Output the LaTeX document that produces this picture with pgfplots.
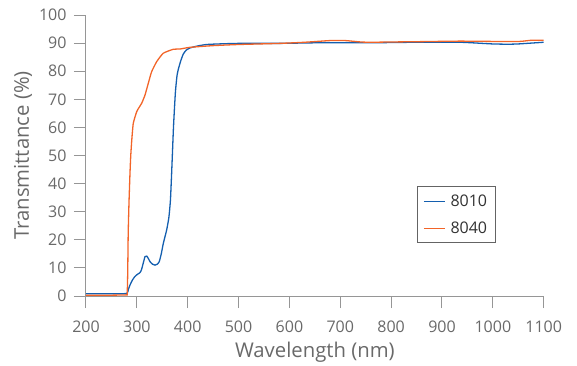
\documentclass[border=0pt]{standalone}
\usepackage{pgfplots}
\pgfplotsset{compat=1.18}
\usepackage{fontspec}
\setmainfont{Open Sans}
\definecolor{cblue}{RGB}{20,95,175}
\definecolor{corange}{RGB}{242,100,40}
\definecolor{axgray}{RGB}{150,150,150}
\definecolor{txtgray}{RGB}{105,105,105}
\begin{document}
\begin{tikzpicture}
\useasboundingbox (-86pt,-69pt) rectangle (491pt,296pt);
\begin{axis}[
  at={(0,0)}, anchor=south west,
  scale only axis, width=457.7pt, height=281pt,
  xmin=200, xmax=1100, ymin=0, ymax=100,
  xtick={200,300,...,1100}, ytick={0,10,...,100},
  axis lines*=left,
  axis line style={axgray, line width=1pt},
  tick style={axgray, line width=1pt},
  tick align=outside,
  major tick length=12pt,
  every tick label/.style={font=\fontsize{16}{18}\selectfont, text=txtgray},
  /pgf/number format/assume math mode=true,
  /pgf/number format/1000 sep={},
  xticklabel style={yshift=-9pt},
  yticklabel style={xshift=-4pt},
  xlabel={Wavelength (nm)},
  ylabel={Transmittance (\%)},
  xlabel style={font=\fontsize{20.3}{23}\selectfont, text=txtgray, at={(axis description cs:0.5,0)}, anchor=center, yshift=-56pt},
  ylabel style={font=\fontsize{20.3}{23}\selectfont, text=txtgray, at={(axis description cs:0,0.5)}, anchor=center, yshift=63pt},
  legend style={at={(axis description cs:0.723,0.391)}, anchor=north west, draw={rgb,255:red,100;green,100;blue,100}, line width=0.8pt, font=\fontsize{16}{18}\selectfont, text={rgb,255:red,50;green,50;blue,50}, inner xsep=6pt, inner ysep=6pt, row sep=10pt, cells={anchor=west}},
  legend image code/.code={\draw[#1, line width=1.1pt] (6pt,0pt) -- (27pt,0pt); \path (30pt,0pt);},
  clip=false,
]
\addplot[cblue, line width=1.3pt, smooth, tension=0.3] coordinates {
(200,0.8) (250,0.8) (280,0.9) (283,2.2) (286.5,3.9) (291,5.6) (296,6.9) (301,7.7) (306,8.3) (309,9.3) (313,12) (316,14) (319.5,14.2) (323,13.2) (326,12.2) (331,11.3) (335.7,11.0) (340,11.3) (344,12.2) (348,15) (352,18.7) (358.6,23.5) (363,28) (366,34) (368,42) (370,51) (372,60) (374,67) (376,73) (379,78.5) (382,81) (386,83.5) (391,86) (397,87.5) (405,88.3) (420,89) (437,89.5) (460,89.7) (500,89.9) (581,89.9) (650,90.1) (700,90.1) (760,90.1) (800,90.2) (850,90.3) (935,90.3) (970,90.0) (1000,89.7) (1030,89.6) (1050,89.7) (1075,90.0) (1100,90.3)
};
\addlegendentry{8010}
\addplot[corange, line width=1.3pt, smooth, tension=0.3] coordinates {
(200,0.3) (250,0.3) (279,0.4) (281,0.8) (282,8) (283,22.4) (284.5,33) (286.5,43.7) (288,50) (290,55.5) (293,61.5) (299.7,65.6) (304,67) (309.5,68.6) (316,71.5) (322.5,75.7) (329,79.8) (339,83.4) (352,86.4) (371.7,87.8) (385,87.9) (404.5,88.5) (450,89.1) (500,89.5) (581,89.9) (630,90.3) (680,90.9) (710,90.9) (740,90.4) (760,90.3) (800,90.4) (850,90.5) (935,90.7) (1000,90.6) (1053,90.6) (1075,91.0) (1100,91.0)
};
\addlegendentry{8040}
\end{axis}
\end{tikzpicture}
\end{document}
